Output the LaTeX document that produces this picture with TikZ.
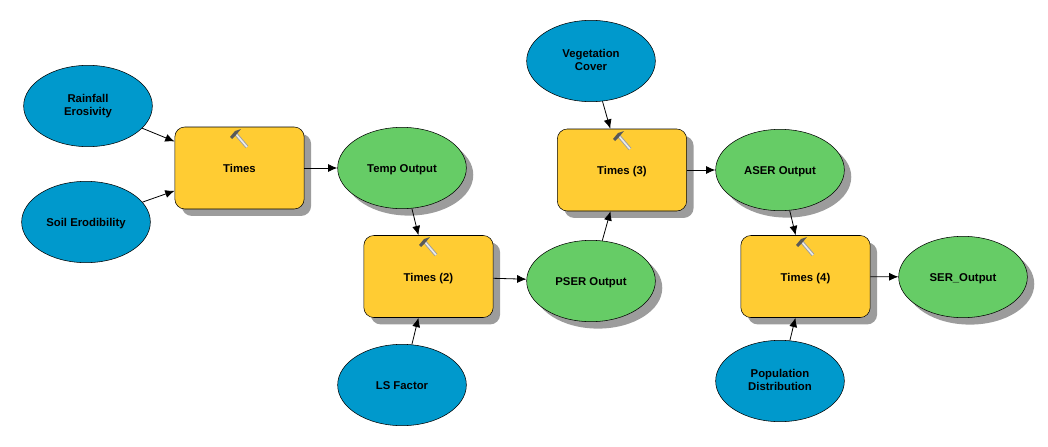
\documentclass[tikz,border=0pt]{standalone}
\usepackage{fontspec}
\setmainfont{Liberation Sans}
\usetikzlibrary{arrows.meta,shadows,shapes.geometric}
\definecolor{inputblue}{RGB}{0,153,204}
\definecolor{toolyellow}{RGB}{255,204,51}
\definecolor{outputgreen}{RGB}{102,204,102}
\definecolor{shadowgray}{RGB}{156,156,156}
\begin{document}
\begin{tikzpicture}[x=0.75pt, y=-0.75pt,
		nodetext/.style={inner sep=0pt, align=center, font=\fontsize{8.5}{10}\selectfont\bfseries, execute at begin node={\rule{0pt}{9pt}}, execute at end node={\rule[-2pt]{0pt}{2pt}}},
		inputnode/.style={draw=black, ellipse, fill=inputblue, minimum width=96.5pt, minimum height=61pt, nodetext},
		outputnode/.style={inputnode, fill=outputgreen, drop shadow={shadow xshift=5.2pt, shadow yshift=-5.2pt, opacity=1, fill=shadowgray}},
		toolnode/.style={draw=black, rectangle, rounded corners=7.5pt, fill=toolyellow, minimum width=97pt, minimum height=61.5pt, nodetext, drop shadow={shadow xshift=5.2pt, shadow yshift=-5.2pt, opacity=1, fill=shadowgray}},
		link/.style={-{Latex[length=7pt,width=6pt]}, black, line width=0.6pt},
		hammer/.pic={
			\draw[line width=2.6pt, gray!75] (-4,-5) -- (8,9);
			\draw[line width=1.2pt, white!92!black] (-4,-5) -- (8,9);
			\fill[gray!70!black] (-9,-1) -- (-4,-7) -- (2,-9) -- (-3,-3) -- (-7,1) -- cycle;
		}]
	\useasboundingbox (0,0) rectangle (1048,446);

	\node[inputnode] at (88,106) (rainfall) {Rainfall\\Erosivity};
	\node[inputnode] at (86,222) (soil) {Soil Erodibility};
	\node[inputnode] at (402,385) (ls) {LS Factor};
	\node[inputnode] at (591,61) (vegetation) {Vegetation\\Cover};
	\node[inputnode] at (780,381) (population) {Population\\Distribution};

	\node[toolnode] at (239.5,168) (times1) {Times};
	\node[toolnode] at (428.5,276.5) (times2) {Times (2)};
	\node[toolnode] at (622,170) (times3) {Times (3)};
	\node[toolnode] at (805.5,276.5) (times4) {Times (4)};

	\node[outputnode] at (402,168) (temp) {Temp Output};
	\node[outputnode] at (591,281) (pser) {PSER Output};
	\node[outputnode] at (780,170) (aser) {ASER Output};
	\node[outputnode] at (963,277) (ser) {SER\_Output};

	\pic at (239,138) {hammer};
	\pic at (428,246) {hammer};
	\pic at (622,140) {hammer};
	\pic at (805,246) {hammer};

	\path
	(rainfall) edge[link] (times1)
	(soil) edge[link] (times1)
	(times1) edge[link] (temp)
	(temp) edge[link] (times2)
	(ls) edge[link] (times2)
	(times2) edge[link] (pser)
	(pser) edge[link] (times3)
	(vegetation) edge[link] (times3)
	(times3) edge[link] (aser)
	(aser) edge[link] (times4)
	(population) edge[link] (times4)
	(times4) edge[link] (ser);
\end{tikzpicture}
\end{document}
